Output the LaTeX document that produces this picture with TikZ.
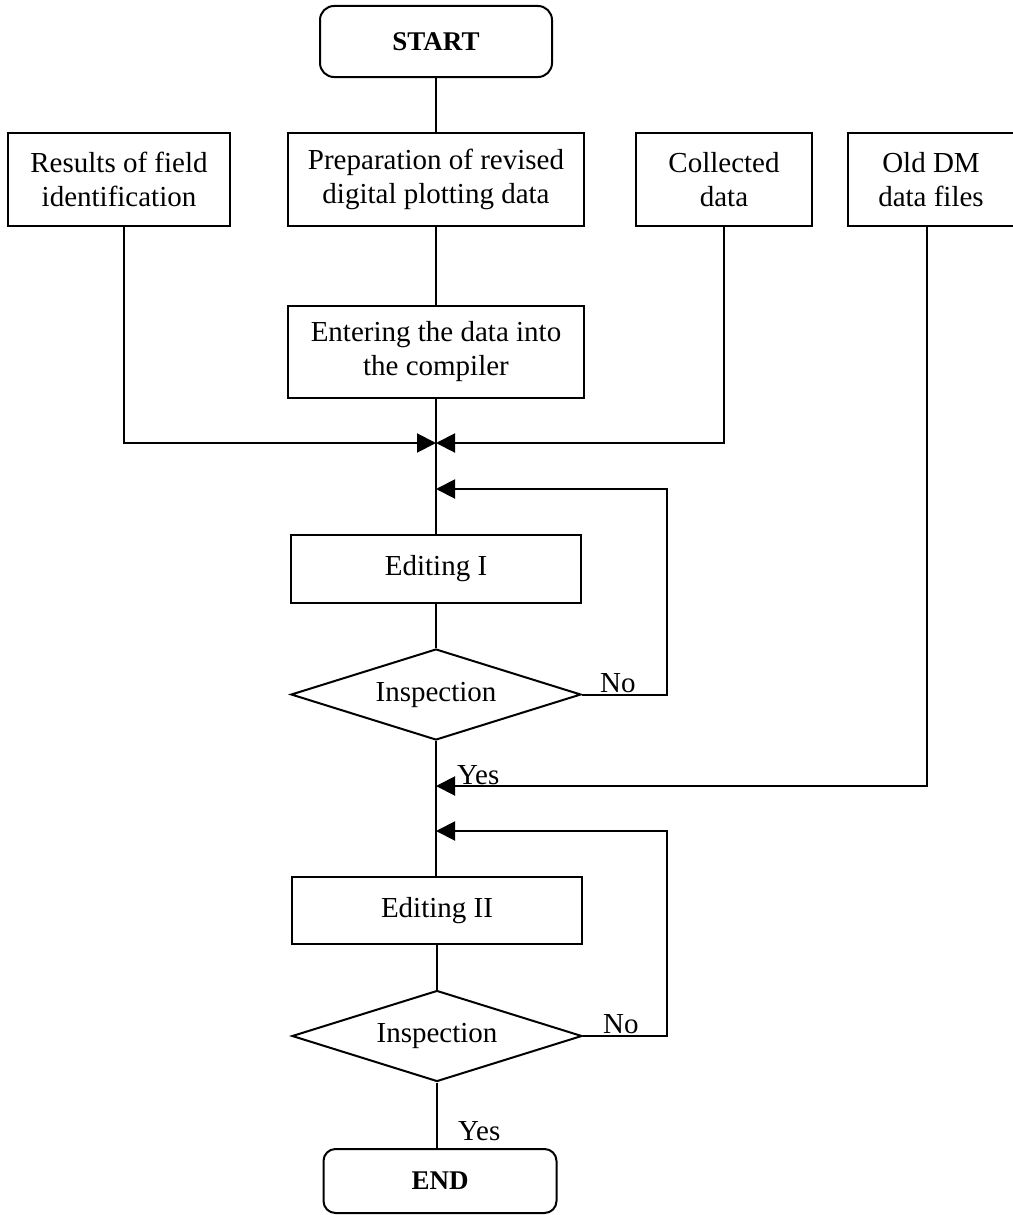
\documentclass[tikz,border=0pt]{standalone}
\usepackage{fontspec}
\setmainfont{Liberation Serif}
\usetikzlibrary{arrows.meta,shapes.geometric}
\begin{document}
\begin{tikzpicture}[x=1pt,y=-1pt,
  every node/.style={font=\fontsize{29}{34}\selectfont, align=center, inner sep=0pt},
  ln/.style={line width=2pt},
  arr/.style={-{Triangle[length=19pt,width=19pt]}},
  box/.style={draw, line width=2pt, minimum width=#1, minimum height=93pt},
  term/.style={draw, line width=2pt, rounded corners=14pt, minimum width=232pt,
    minimum height=71pt, font=\bfseries\fontsize{27}{32}\selectfont},
  decision/.style={draw, line width=2pt, diamond, aspect=3.2,
    minimum width=290pt, minimum height=91pt},
  lbl/.style={anchor=south west}
]
% page
\fill[white, use as bounding box] (0,0) rectangle (1012,1215);

% terminals, process boxes and decisions
\node[term] (start) at (436,41.5) {START};
\node[box=222pt] (res)  at (119,179.5) {Results of field\\identification};
\node[box=296pt] (prep) at (436,179.5) {Preparation of revised\\digital plotting data};
\node[box=176pt] (coll) at (724,179.5) {Collected\\data};
\node[box=166pt] (old)  at (931,179.5) {Old DM\\data files};
\node[box=296pt, minimum height=92pt] (ent) at (436,352) {Entering the data into\\the compiler};
\node[box=290pt, minimum height=68pt] (ed1) at (436,569) {Editing I};
\node[decision] (insp1) at (436,694.5) {Inspection};
\node[box=290pt, minimum height=67pt] (ed2) at (437,910.5) {Editing II};
\node[decision] (insp2) at (437,1036) {Inspection};
\node[term, minimum width=233pt, minimum height=64pt, rounded corners=12pt] (end) at (440,1181) {END};

% junction points on the main line
\coordinate (m)  at (436,443);
\coordinate (f1) at (436,489);
\coordinate (o)  at (436,786);
\coordinate (f2) at (436,831);
\coordinate (fb) at (667,0);

% main flow
\draw[ln] (start) -- (prep);
\draw[ln] (prep) -- (ent);
\draw[ln] (ent) -- (ed1);
\draw[ln] (ed1) -- (insp1);
\draw[ln] (insp1.south) -- (insp1.south |- ed2.north);
\draw[ln] (ed2) -- (insp2);
\draw[ln] (insp2.south) -- (insp2.south |- end.north);

% side inputs
\draw[ln,arr] ([xshift=5pt]res.south) |- (m);
\draw[ln,arr] (coll.south) |- (m);
\draw[ln,arr] ([xshift=-4pt]old.south) |- (o);

% rework loops
\draw[ln,arr] (insp1.east) -- (insp1.east -| fb) |- (f1);
\draw[ln,arr] (insp2.east) -- (insp2.east -| fb) |- (f2);

% branch labels
\node[lbl] at ([xshift=18pt,yshift=2pt]insp1.east) {No};
\node[lbl] at ([xshift=20pt,yshift=2pt]insp2.east) {No};
\node[lbl] at ([xshift=21pt,yshift=1pt]o) {Yes};
\node[lbl] at ([xshift=21pt,yshift=7pt]insp2.south |- end.north) {Yes};
\end{tikzpicture}
\end{document}
